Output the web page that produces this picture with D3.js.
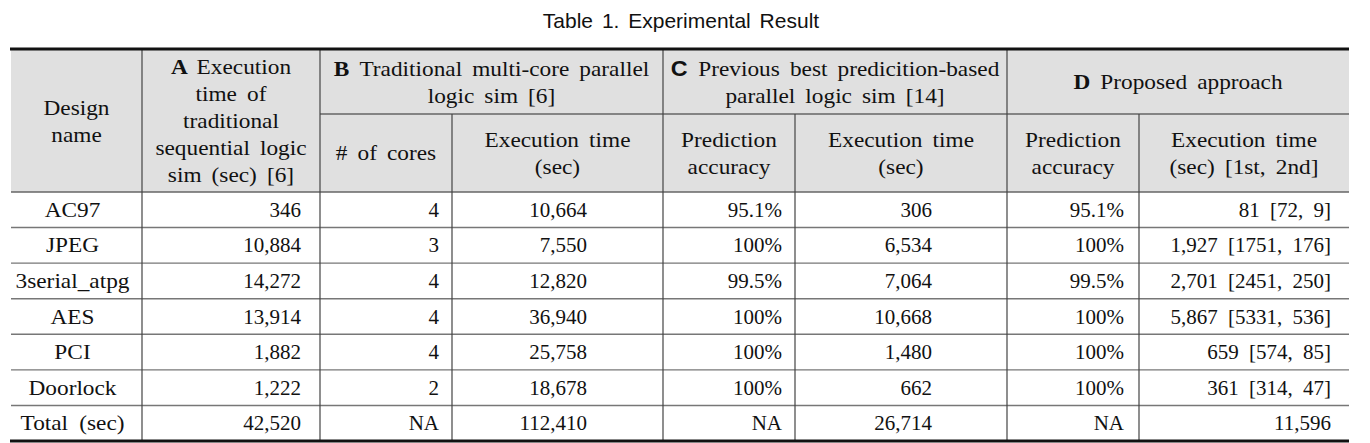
<!DOCTYPE html>
<html>
<head>
<meta charset="utf-8">
<script src="https://cdn.jsdelivr.net/npm/d3@7"></script>
<style>
  body { margin: 0; background: #fff; }
</style>
</head>
<body>
<div id="chart"></div>
<script>
// table values
const designs = ["AC97", "JPEG", "3serial_atpg", "AES", "PCI", "Doorlock", "Total (sec)"];
const seqTime = [346, 10884, 14272, 13914, 1882, 1222, 42520];
const cores = [4, 3, 4, 4, 4, 2, null];
const multiTime = [10664, 7550, 12820, 36940, 25758, 18678, 112410];
const prevAcc = [95.1, 100, 99.5, 100, 100, 100, null];
const prevTime = [306, 6534, 7064, 10668, 1480, 662, 26714];
const propAcc = [95.1, 100, 99.5, 100, 100, 100, null];
const propTime = [81, 1927, 2701, 5867, 659, 361, 11596];
const propFirst = [72, 1751, 2451, 5331, 574, 314, null];
const propSecond = [9, 176, 250, 536, 85, 47, null];

const groupHeads = [
  { lead: "A", lines: ["Execution", "time of", "traditional", "sequential logic", "sim (sec) [6]"] },
  { lead: "B", lines: ["Traditional multi-core parallel", "logic sim [6]"] },
  { lead: "C", lines: ["Previous best predicition-based", "parallel logic sim [14]"] },
  { lead: "D", lines: ["Proposed approach"] }
];
const subHeads = [
  ["# of cores"],
  ["Execution time", "(sec)"],
  ["Prediction", "accuracy"],
  ["Execution time", "(sec)"],
  ["Prediction", "accuracy"],
  ["Execution time", "(sec) [1st, 2nd]"]
];

const W = 1370, H = 443;
const edges = [11, 142, 320, 452, 663, 795, 1007, 1139, 1349];
const yTop = 50, yMid = 114, yHead = 192, yBot = 441;
const lineH = 27;
const fontSize = 21;
const stretch = 1.06; // the source font is a bit wider than Liberation Serif
const serif = "'Liberation Serif', 'Times New Roman', serif";
const sans = "'Liberation Sans', Arial, sans-serif";

const svg = d3.select("#chart").append("svg")
  .attr("width", W).attr("height", H);

const y = d3.scaleBand().domain(designs).range([yHead, yBot]);

const fmt = d3.format(",");
const na = (v, f) => (v == null ? "NA" : f(v));
const pct = v => v + "%";

const cols = [
  { vals: designs, f: d => d, align: "middle", shift: -4, words: true },
  { vals: seqTime, f: fmt, pad: 19 },
  { vals: cores, f: d => d, pad: 13 },
  { vals: multiTime, f: fmt, pad: 76 },
  { vals: prevAcc, f: pct, pad: 13 },
  { vals: prevTime, f: fmt, pad: 75 },
  { vals: propAcc, f: pct, pad: 15 },
  { vals: propTime.map((t, i) => i), f: i => propFirst[i] == null ? fmt(propTime[i]) : `${fmt(propTime[i])} [${propFirst[i]}, ${propSecond[i]}]`, pad: 18, spaced: true }
];

// header background
svg.append("rect")
  .attr("x", edges[0]).attr("y", yTop)
  .attr("width", edges[8] - edges[0]).attr("height", yHead - yTop)
  .attr("fill", "#e0e0e0");

// title
svg.append("text")
  .attr("x", 681).attr("y", 28)
  .attr("text-anchor", "middle")
  .style("font-family", sans)
  .style("font-size", "21px")
  .style("word-spacing", "3px")
  .style("fill", "#111")
  .text("Table 1. Experimental Result");

// header text helper
function block(lines, x0, x1, y0, y1, lead, leadSans) {
  const cx = (x0 + x1) / 2, cy = (y0 + y1) / 2;
  const start = cy - (lines.length - 1) * lineH / 2 + 7;
  lines.forEach((ln, i) => {
    const t = svg.append("text")
      .attr("transform", `translate(${cx},${start + i * lineH}) scale(${stretch},1)`)
      .attr("text-anchor", "middle")
      .style("font-family", serif)
      .style("font-size", (fontSize + 1) + "px")
      .style("word-spacing", "4px")
      .style("fill", "#111");
    if (lead && i === 0) {
      t.append("tspan")
        .style("font-weight", "bold")
        .style("font-family", leadSans ? sans : serif)
        .text(lead + " ");
    }
    t.append("tspan").text(ln);
  });
}

block(["Design", "name"], edges[0], edges[1], yTop, yHead);
block(groupHeads[0].lines, edges[1], edges[2], yTop, yHead, "A");
block(groupHeads[1].lines, edges[2], edges[4], yTop, yMid, "B");
block(groupHeads[2].lines, edges[4], edges[6], yTop, yMid, "C", true);
block(groupHeads[3].lines, edges[6], edges[8], yTop, yMid, "D");
subHeads.forEach((s, i) => block(s, edges[i + 2], edges[i + 3], yMid, yHead));

// body cells
cols.forEach((c, ci) => {
  const x0 = edges[ci], x1 = edges[ci + 1];
  const tx = c.align === "middle" ? (x0 + x1) / 2 + c.shift : x1 - c.pad;
  svg.append("g").selectAll("text")
    .data(c.vals)
    .join("text")
    .attr("transform", (d, i) => `translate(${tx},${y(designs[i]) + y.bandwidth() / 2 + 7})` + (c.words ? ` scale(${stretch},1)` : ""))
    .attr("text-anchor", c.align === "middle" ? "middle" : "end")
    .style("font-family", serif)
    .style("font-size", (c.words ? fontSize + 1 : fontSize) + "px")
    .style("word-spacing", c.words || c.spaced ? "5px" : null)
    .style("fill", "#111")
    .text(d => (ci === 0 || ci === 7) ? c.f(d) : na(d, c.f));
});

// row lines
svg.append("g").selectAll("line")
  .data(designs.slice(1))
  .join("line")
  .attr("x1", edges[0]).attr("x2", edges[8])
  .attr("y1", d => y(d)).attr("y2", d => y(d))
  .attr("stroke", "#777").attr("stroke-width", 1.4);

svg.append("line")
  .attr("x1", edges[0]).attr("x2", edges[8])
  .attr("y1", yHead).attr("y2", yHead)
  .attr("stroke", "#666").attr("stroke-width", 1.6);

svg.append("line")
  .attr("x1", edges[2]).attr("x2", edges[8])
  .attr("y1", yMid).attr("y2", yMid)
  .attr("stroke", "#666").attr("stroke-width", 1.4);

// vertical lines: full height and sub-header only
const fullV = [1, 2, 4, 6];
const subV = [3, 5, 7];
svg.append("g").selectAll("line")
  .data(fullV.map(i => ({ x: edges[i], y0: yTop })).concat(subV.map(i => ({ x: edges[i], y0: yMid }))))
  .join("line")
  .attr("x1", d => d.x).attr("x2", d => d.x)
  .attr("y1", d => d.y0).attr("y2", yBot)
  .attr("stroke", "#444").attr("stroke-width", 1.2);

// top and bottom rules
[yTop - 1, yBot].forEach(v => {
  svg.append("line")
    .attr("x1", edges[0] - 1).attr("x2", edges[8])
    .attr("y1", v).attr("y2", v)
    .attr("stroke", "#111").attr("stroke-width", 3);
});
</script>
</body>
</html>
